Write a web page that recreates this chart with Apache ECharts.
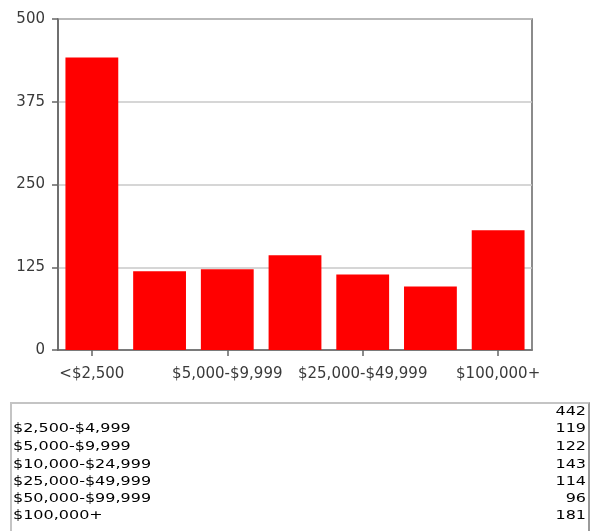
<!DOCTYPE html>
<html>
<head>
<meta charset="utf-8">
<script src="https://cdn.jsdelivr.net/npm/echarts@6/dist/echarts.min.js"></script>
<style>
  html, body { margin: 0; padding: 0; background: #fff; width: 590px; height: 531px; overflow: hidden; }
  #chart { position: absolute; left: 0; top: 0; width: 590px; height: 531px; }
  #box { position: absolute; left: 10px; top: 402px; width: 576px; height: 140px;
         border-top: 2px solid #c4c4c4; border-left: 2px solid #c4c4c4; border-right: 2px solid #9a9a9a; }
  #tbl { position: absolute; left: 12px; top: 402px; width: 574px;
         font-family: "DejaVu Sans", Verdana, sans-serif; font-size: 16px; color: #000; line-height: 21.2px;
         transform: scaleY(0.82); transform-origin: 0 0; }
  .row { display: flex; justify-content: space-between; padding-left: 1px; padding-right: 0px; }
</style>
</head>
<body>
<div id="chart"></div>
<div id="box"></div>
<div id="tbl"></div>
<script>
const categories = ["<$2,500", "$2,500-$4,999", "$5,000-$9,999", "$10,000-$24,999", "$25,000-$49,999", "$50,000-$99,999", "$100,000+"];
const values = [442, 119, 122, 143, 114, 96, 181];
const tableLabels = ["", "$2,500-$4,999", "$5,000-$9,999", "$10,000-$24,999", "$25,000-$49,999", "$50,000-$99,999", "$100,000+"];
const yTicks = [0, 125, 250, 375, 500];

const chart = echarts.init(document.getElementById('chart'), null, { renderer: 'canvas' });
chart.setOption({
  animation: false,
  grid: { left: 58, right: 58, top: 19, bottom: 181, show: true, borderColor: '#666', borderWidth: 1.5, backgroundColor: '#fff' },
  xAxis: {
    type: 'category',
    data: categories,
    axisLine: { show: true, lineStyle: { color: '#666', width: 1.5 } },
    axisTick: { show: true, interval: 1, alignWithLabel: true, length: 6, lineStyle: { color: '#666', width: 1.5 } },
    axisLabel: { interval: 1, margin: 17, fontFamily: '"DejaVu Sans", Verdana, sans-serif', fontSize: 15, color: '#3a3a3a' }
  },
  yAxis: {
    type: 'value',
    min: yTicks[0],
    max: yTicks[yTicks.length - 1],
    interval: yTicks[1] - yTicks[0],
    axisLine: { show: true, lineStyle: { color: '#666', width: 1.5 } },
    axisTick: { show: true, length: 6, lineStyle: { color: '#666', width: 1.5 } },
    axisLabel: { margin: 13, fontFamily: '"DejaVu Sans", Verdana, sans-serif', fontSize: 15, color: '#3a3a3a' },
    splitLine: { show: true, lineStyle: { color: '#c8c8c8', width: 1.5 } }
  },
  series: [{
    type: 'bar',
    data: values,
    barCategoryGap: '22%',
    itemStyle: { color: '#ff0000' }
  }]
});

const tbl = document.getElementById('tbl');
values.forEach((v, i) => {
  const row = document.createElement('div');
  row.className = 'row';
  const a = document.createElement('span');
  a.textContent = tableLabels[i];
  const b = document.createElement('span');
  b.textContent = String(v);
  row.appendChild(a); row.appendChild(b);
  tbl.appendChild(row);
});
</script>
</body>
</html>
